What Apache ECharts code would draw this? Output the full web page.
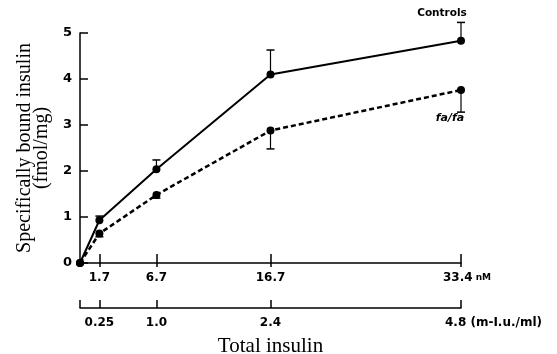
<!DOCTYPE html>
<html>
<head>
<meta charset="utf-8">
<script src="https://cdn.jsdelivr.net/npm/echarts@6/dist/echarts.min.js"></script>
<style>
  html, body { margin: 0; padding: 0; background: #fff; }
  #chart { width: 557px; height: 354px; }
</style>
</head>
<body>
<div id="chart"></div>
<script>
// total insulin (nM) and the matching m-i.u./ml scale
var doses = [0, 1.7, 6.7, 16.7, 33.4];
var nmTicks = [1.7, 6.7, 16.7, 33.4];
var nmLabels = ['1.7', '6.7', '16.7', '33.4'];
var muTicks = [0, 1.7, 6.7, 16.7, 33.4];
var muLabels = ['', '0.25', '1.0', '2.4', '4.8'];

// specifically bound insulin (fmol/mg)
var controls = [0, 0.93, 2.04, 4.10, 4.83];
var controlsErr = [0, 0.09, 0.2, 0.53, 0.4];   // drawn upward
var fafa = [0, 0.64, 1.48, 2.88, 3.76];
var fafaErr = [0, 0.07, 0.07, 0.4, 0.48];      // drawn downward

function pairs(ys){
	var out = [];
	for (var i=0; i<doses.length; i++){ out.push([doses[i], ys[i]]); }
	return out;
}

function errData(ys, errs, dir){
	var out = [];
	for (var i=1; i<doses.length; i++){
		out.push([doses[i], ys[i], ys[i] + dir*errs[i]]);
	}
	return out;
}

function errRender(params, api){
	var p0 = api.coord([api.value(0), api.value(1)]);
	var p1 = api.coord([api.value(0), api.value(2)]);
	var w = 4;
	return {
		type: 'group',
		children: [
			{type: 'line', shape: {x1: p0[0], y1: p0[1], x2: p1[0], y2: p1[1]}, style: {stroke: '#000', lineWidth: 1.2}},
			{type: 'line', shape: {x1: p1[0]-w, y1: p1[1], x2: p1[0]+w, y2: p1[1]}, style: {stroke: '#000', lineWidth: 1.5}}
		]
	};
}

var chart = echarts.init(document.getElementById('chart'));
var sansFont = 'DejaVu Sans, Liberation Sans, sans-serif';
var serifFont = 'Liberation Serif, Times New Roman, serif';

var option = {
	animation: false,
	backgroundColor: '#fff',
	grid: {left: 80, right: 96, top: 33, bottom: 91, containLabel: false, outerBoundsMode: 'none'},
	xAxis: [
		{
			type: 'value', min: 0, max: 33.4, position: 'bottom',
			axisLine: {show: true, onZero: false, lineStyle: {color: '#000', width: 1.5}},
			axisTick: {show: true, inside: true, length: 9, customValues: nmTicks, lineStyle: {color: '#000', width: 1.5}},
			axisLabel: {
				customValues: nmTicks, margin: 9, color: '#000', fontFamily: sansFont, fontSize: 12, fontWeight: 'bold',
				formatter: function(v){
					var i = nmTicks.indexOf(v);
					if (i == nmTicks.length - 1) return '{v|' + nmLabels[i] + '}{u| nM}';
					return nmLabels[i];
				},
				rich: {
					v: {fontFamily: sansFont, fontSize: 12, fontWeight: 'bold', color: '#000', padding: [0, 0, 0, 12]},
					u: {fontFamily: sansFont, fontSize: 9, fontWeight: 'bold', color: '#000'}
				}
			},
			splitLine: {show: false}
		},
		{
			// lower half of the crossing ticks on the nM scale
			type: 'value', min: 0, max: 33.4, position: 'bottom', offset: 0,
			axisLine: {show: false},
			axisTick: {show: true, inside: false, length: 4, customValues: nmTicks, lineStyle: {color: '#000', width: 1.5}},
			axisLabel: {show: false},
			splitLine: {show: false}
		},
		{
			type: 'value', min: 0, max: 33.4, position: 'bottom', offset: 45,
			name: 'Total insulin', nameLocation: 'middle', nameGap: 28,
			nameTextStyle: {fontFamily: serifFont, fontSize: 21, color: '#000'},
			axisLine: {show: true, onZero: false, lineStyle: {color: '#000', width: 1.5}},
			axisTick: {show: true, inside: true, length: 8, customValues: muTicks, lineStyle: {color: '#000', width: 1.5}},
			axisLabel: {
				customValues: muTicks, margin: 9, color: '#000', fontFamily: sansFont, fontSize: 12, fontWeight: 'bold',
				formatter: function(v){
					var i = muTicks.indexOf(v);
					if (i == muTicks.length - 1) return '{v|' + muLabels[i] + '}{u| (m-I.u./ml)}';
					return muLabels[i];
				},
				rich: {
					v: {fontFamily: sansFont, fontSize: 12, fontWeight: 'bold', color: '#000', padding: [0, 0, 0, 65]},
					u: {fontFamily: sansFont, fontSize: 12, fontWeight: 'bold', color: '#000'}
				}
			},
			splitLine: {show: false}
		}
	],
	yAxis: {
		type: 'value', min: 0, max: 5, interval: 1,
		name: 'Specifically bound insulin\n(fmol/mg)', nameLocation: 'middle', nameGap: 17, nameRotate: 90,
		nameTextStyle: {fontFamily: serifFont, fontSize: 20, color: '#000', lineHeight: 17},
		axisLine: {show: true, lineStyle: {color: '#000', width: 1.5}},
		axisTick: {show: true, inside: true, length: 8, lineStyle: {color: '#000', width: 1.5}},
		axisLabel: {color: '#000', fontFamily: sansFont, fontSize: 13, fontWeight: 'bold', margin: 8},
		splitLine: {show: false}
	},
	series: [
		{
			name: 'Controls', type: 'line', data: pairs(controls),
			symbol: 'circle', symbolSize: 8,
			itemStyle: {color: '#000'},
			lineStyle: {color: '#000', width: 2},
			label: {
				show: true, position: 'top', offset: [-19, -13], color: '#000',
				fontFamily: sansFont, fontSize: 10.5, fontWeight: 'bold',
				formatter: function(p){ return p.dataIndex == doses.length - 1 ? 'Controls' : ''; }
			},
			z: 3
		},
		{
			name: 'fa/fa', type: 'line', data: pairs(fafa),
			symbol: 'circle', symbolSize: 8,
			itemStyle: {color: '#000'},
			lineStyle: {color: '#000', width: 2.5, type: [5, 3]},
			label: {
				show: true, position: 'bottom', offset: [-11, 14], color: '#000',
				fontFamily: sansFont, fontSize: 11, fontWeight: 'bold', fontStyle: 'italic',
				formatter: function(p){ return p.dataIndex == doses.length - 1 ? 'fa/fa' : ''; }
			},
			z: 3
		},
		{
			type: 'custom', data: errData(controls, controlsErr, 1),
			renderItem: errRender, encode: {x: 0, y: [1, 2]}, z: 2, silent: true
		},
		{
			type: 'custom', data: errData(fafa, fafaErr, -1),
			renderItem: errRender, encode: {x: 0, y: [1, 2]}, z: 2, silent: true
		}
	]
};

chart.setOption(option);
</script>
</body>
</html>
